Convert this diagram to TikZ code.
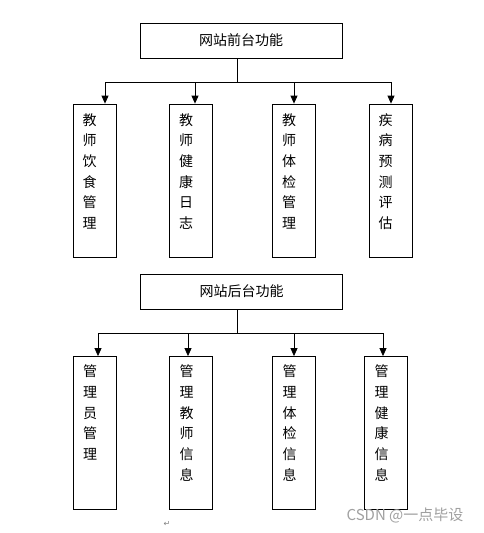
\documentclass[tikz,border=0pt]{standalone}
\usepackage{fontspec}
\newfontfamily\cjk{Noto Sans CJK SC}
\newfontfamily\symfont{DejaVu Sans}
\usetikzlibrary{arrows.meta,positioning,calc}
\definecolor{markgray}{HTML}{A0A0A0}

\begin{document}
\begin{tikzpicture}[x=1pt,y=-1pt,
  funcbox/.style={draw,line width=0.8pt,minimum width=202pt,minimum height=35pt,font=\cjk\fontsize{14}{16}\selectfont},
  modbox/.style={draw,line width=0.8pt,minimum width=43pt,minimum height=153pt},
  modtext/.style={anchor=north,align=center,inner sep=0pt,font=\cjk\fontsize{14}{20.7}\selectfont},
  arr/.style={line width=0.8pt,-{Triangle[width=7pt,length=8pt]}}]
  \useasboundingbox (0,0) rectangle (483,533);
  % Front end
  \node[funcbox] (front) at (241,40.5) {网站前台功能};
  \coordinate (fj) at (237,82);
  \draw[line width=0.8pt] (fj |- front.south) -- (fj);
  \foreach \i/\xb/\xa/\txt in {1/94.5/105/教\\师\\饮\\食\\管\\理, 2/191/195/教\\师\\健\\康\\日\\志,
                              3/294/294/教\\师\\体\\检\\管\\理, 4/390.5/391/疾\\病\\预\\测\\评\\估} {
    \node[modbox] (f\i) at (\xb,180.5) {};
    \node[modtext] (ft\i) at ($(f\i.north)+(-5,9.5)$) {\txt};
    \coordinate (fa\i) at (\xa,82);
    \draw[arr] (fa\i) -- (fa\i |- f\i.north);
  }
  \draw[line width=0.8pt] (fa1) -- (fa4);
  % Back end
  \node[funcbox] (back) at (241.5,291.5) {网站后台功能};
  \coordinate (bj) at (237,333);
  \draw[line width=0.8pt] (bj |- back.south) -- (bj);
  \foreach \i/\xb/\xa/\txt in {1/94.5/98/管\\理\\员\\管\\理, 2/191/188/管\\理\\教\\师\\信\\息,
                              3/294/294/管\\理\\体\\检\\信\\息, 4/386/383/管\\理\\健\\康\\信\\息} {
    \node[modbox] (b\i) at (\xb,433) {};
    \node[modtext] (bt\i) at ($(b\i.north)+(-4.5,8.5)$) {\txt};
    \coordinate (ba\i) at (\xa,333);
    \draw[arr] (ba\i) -- (ba\i |- b\i.north);
  }
  \draw[line width=0.8pt] (ba1) -- (ba4);
  % Marks
  \node[font=\symfont\fontsize{8}{9}\selectfont,text=gray] (ret) at (167,524) {↵};
  \node[font=\cjk\fontsize{15}{18}\selectfont,text=markgray] (mark) at (405,515) {CSDN @一点毕设};
\end{tikzpicture}
\end{document}
